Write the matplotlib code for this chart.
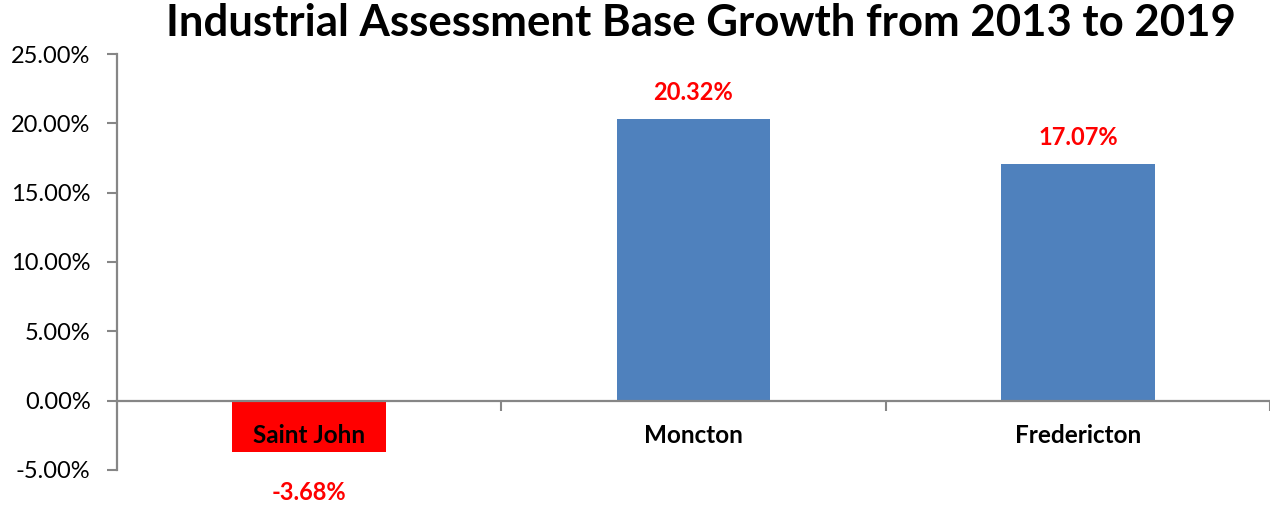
import matplotlib
matplotlib.use("Agg")
import matplotlib.pyplot as plt
from matplotlib.ticker import FuncFormatter

cities = ["Saint John", "Moncton", "Fredericton"]
growth_pct = [-3.68, 20.32, 17.07]
y_ticks = [-5, 0, 5, 10, 15, 20, 25]
title = "Industrial Assessment Base Growth from 2013 to 2019"

BLUE = "#4F81BD"
RED = "#FF0000"
GRAY = "#868686"

plt.rcParams["font.family"] = ["Lato", "DejaVu Sans"]

fig = plt.figure(figsize=(12.7, 5.05), dpi=100)
ax = fig.add_axes([117 / 1270, 35 / 505, 1 - 117 / 1270, 416 / 505])

colors = [RED if v < 0 else BLUE for v in growth_pct]
x = list(range(len(cities)))
ax.bar(x, growth_pct, width=0.4, color=colors, zorder=2)

ax.set_xlim(-0.5, len(cities) - 0.5)
ax.set_ylim(y_ticks[0], y_ticks[-1])
ax.set_yticks(y_ticks)
ax.yaxis.set_major_formatter(FuncFormatter(lambda v, _: f"{v:.2f}%"))
ax.tick_params(axis="y", length=7, width=1.5, color=GRAY, pad=12,
               labelsize=17, labelcolor="black")

for s in ("top", "right"):
    ax.spines[s].set_visible(False)
ax.spines["left"].set_color(GRAY)
ax.spines["left"].set_linewidth(1.6)
ax.spines["bottom"].set_position(("data", 0))
ax.spines["bottom"].set_color(GRAY)
ax.spines["bottom"].set_linewidth(1.6)
ax.spines["bottom"].set_zorder(3)

ax.set_xticks([i + 0.5 for i in x])
ax.set_xticklabels([])
ax.tick_params(axis="x", length=7, width=1.5, color=GRAY)

for i, (name, v) in enumerate(zip(cities, growth_pct)):
    ax.annotate(name, xy=(i, 0), xytext=(0, -35), textcoords="offset pixels",
                ha="center", va="center", fontsize=17.5, fontweight="bold",
                color="black", zorder=4)
    off = 26 if v >= 0 else -41
    ax.annotate(f"{v:.2f}%", xy=(i, v), xytext=(0, off), textcoords="offset pixels",
                ha="center", va="center", fontsize=17, fontweight="bold",
                color=RED, zorder=4)

fig.text(701 / 1270, 1 - 23 / 505, title, ha="center", va="center",
         fontsize=31.5, fontweight="bold", color="black")

fig.savefig("out.png", dpi=100)
